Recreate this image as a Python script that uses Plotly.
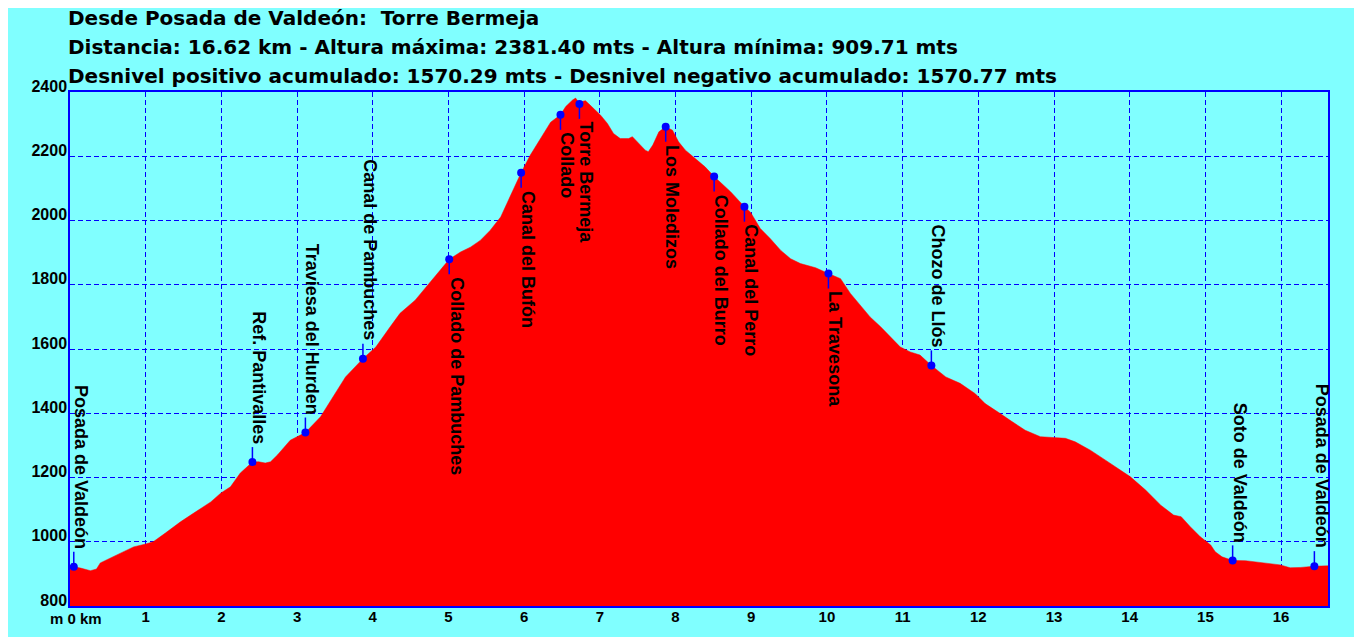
import plotly.graph_objects as go

# perfil de la ruta: distancia (km) y altura (m)
dist_km = [0.00, 0.05, 0.14, 0.27, 0.35, 0.40, 0.53, 0.71, 0.84, 1.00, 1.10, 1.26, 1.46, 1.66, 1.86,
           1.99, 2.12, 2.25, 2.41, 2.49, 2.58, 2.65, 2.74, 2.91, 3.11, 3.31, 3.48, 3.64, 3.87, 4.04,
           4.23, 4.36, 4.56, 4.76, 5.01, 5.16, 5.29, 5.42, 5.55, 5.69, 5.82, 5.96, 6.08, 6.22, 6.35,
           6.48, 6.55, 6.64, 6.68, 6.72, 6.81, 6.85, 6.94, 7.01, 7.10, 7.18, 7.27, 7.38, 7.43, 7.50,
           7.60, 7.64, 7.70, 7.78, 7.87, 7.96, 8.04, 8.13, 8.26, 8.39, 8.51, 8.59, 8.73, 8.91, 8.99,
           9.12, 9.25, 9.39, 9.52, 9.65, 9.85, 10.02, 10.18, 10.31, 10.44, 10.57, 10.71, 10.84, 10.97,
           11.10, 11.23, 11.38, 11.57, 11.76, 11.96, 12.09, 12.23, 12.29, 12.42, 12.62, 12.82, 13.02,
           13.15, 13.28, 13.48, 13.68, 13.88, 14.01, 14.21, 14.41, 14.58, 14.68, 14.80, 14.93, 15.07,
           15.13, 15.22, 15.36, 15.53, 15.73, 15.99, 16.12, 16.26, 16.44, 16.62]
altura = [926, 922, 918, 910, 915, 934, 949, 969, 984, 993, 1000, 1027, 1062, 1093, 1124,
          1151, 1171, 1214, 1248, 1249, 1245, 1249, 1270, 1316, 1340, 1389, 1451, 1513, 1570, 1606,
          1669, 1711, 1752, 1809, 1879, 1902, 1917, 1938, 1969, 2011, 2078, 2149, 2203, 2255, 2306,
          2329, 2355, 2375, 2381, 2368, 2373, 2364, 2343, 2328, 2302, 2271, 2255, 2255, 2261, 2245,
          2219, 2214, 2235, 2276, 2292, 2281, 2245, 2219, 2193, 2167, 2137, 2120, 2089, 2043, 2026,
          1975, 1944, 1907, 1881, 1866, 1853, 1835, 1819, 1773, 1736, 1700, 1669, 1638, 1606,
          1591, 1581, 1549, 1513, 1493, 1461, 1430, 1410, 1399, 1378, 1347, 1327, 1325,
          1322, 1311, 1285, 1254, 1223, 1202, 1161, 1114, 1083, 1078, 1047, 1016, 990,
          969, 953, 942, 941, 935, 928, 919, 920, 924, 925]

# puntos de paso
wp_nombres = ["Posada de Valdeón", "Ref. Pantivalles", "Traviesa del Hurden", "Canal de Pambuches",
              "Collado de Pambuches", "Canal del Bufón", "Collado", "Torre Bermeja", "Los Moledizos",
              "Collado del Burro", "Canal del Perro", "La Travesona", "Chozo de Llós",
              "Soto de Valdeón", "Posada de Valdeón"]
wp_km = [0.05, 2.41, 3.11, 3.87, 5.01, 5.96, 6.48, 6.73, 7.87, 8.51, 8.91, 10.02, 11.38, 15.36, 16.44]
wp_alt = [922, 1248, 1340, 1570, 1879, 2149, 2329, 2363, 2292, 2137, 2043, 1835, 1549, 942, 924]

x_ticks = list(range(0, 17))
y_ticks = list(range(800, 2401, 200))

titulos = ["Desde Posada de Valdeón:  Torre Bermeja",
           "Distancia: 16.62 km - Altura máxima: 2381.40 mts - Altura mínima: 909.71 mts",
           "Desnivel positivo acumulado: 1570.29 mts - Desnivel negativo acumulado: 1570.77 mts"]

AZUL = "#0000ff"
CIAN = "#80ffff"
arriba = {"Posada de Valdeón", "Ref. Pantivalles", "Traviesa del Hurden", "Canal de Pambuches",
          "Chozo de Llós", "Soto de Valdeón"}

fig = go.Figure()
fig.add_trace(go.Scatter(x=dist_km, y=altura, mode="lines", fill="tozeroy",
                         fillcolor="#ff0000", line=dict(color="#ff0000", width=0.5),
                         hoverinfo="skip"))
fig.add_trace(go.Scatter(x=wp_km, y=wp_alt, mode="markers",
                         marker=dict(color=AZUL, size=8), hoverinfo="skip"))

lab_font = dict(family="Liberation Sans, Arial", size=18, color="black", weight="bold")
for nom, k, a in zip(wp_nombres, wp_km, wp_alt):
    up = nom in arriba
    fig.add_shape(type="line", xref="x", yref="y", ysizemode="pixel", yanchor=a,
                  x0=k, x1=k, y0=0, y1=15 if up else -15, line=dict(color=AZUL, width=1.5))
    fig.add_annotation(x=k, y=a, text=nom, showarrow=False, textangle=90,
                       xanchor="left", xshift=-5,
                       yanchor="bottom" if up else "top", yshift=16 if up else -16,
                       font=lab_font)

for i, t in enumerate(titulos):
    fig.add_annotation(x=0, y=1, xref="paper", yref="paper", text=t, showarrow=False,
                       xanchor="left", yanchor="middle", xshift=-3, yshift=74 - 29 * i,
                       borderpad=0,
                       font=dict(family="DejaVu Sans", size=20, color="black", weight="bold"))

# etiqueta del origen del eje x
fig.add_annotation(x=0, y=0, xref="x", yref="paper", text="m 0 km", showarrow=False,
                   xanchor="center", yanchor="top", xshift=6, yshift=-2,
                   font=dict(family="Liberation Sans, Arial", size=15, color="black", weight="bold"))

axis_common = dict(showline=True, mirror=True, linecolor=AZUL, linewidth=1.5,
                   showgrid=True, gridcolor=AZUL, gridwidth=1, griddash="5px,3px",
                   zeroline=False, ticks="", fixedrange=True)
fig.update_xaxes(range=[0, 16.62], tickvals=x_ticks,
                 ticktext=[""] + [str(v) for v in x_ticks[1:]], ticklabelstandoff=-4,
                 tickfont=dict(family="Liberation Sans, Arial", size=15, color="black", weight="bold"),
                 **axis_common)
fig.update_yaxes(range=[800, 2400], tickvals=y_ticks, ticklabelshift=-6, ticklabelstandoff=-2,
                 tickfont=dict(family="Liberation Sans, Arial", size=16, color="black", weight="bold"),
                 **axis_common)

# la página añade 8 px de margen: se compensa en los márgenes
fig.update_layout(width=1362, height=637, showlegend=False,
                  paper_bgcolor=CIAN, plot_bgcolor=CIAN,
                  margin=dict(l=62, r=42, t=84, b=39))

fig.write_html("out.html")
